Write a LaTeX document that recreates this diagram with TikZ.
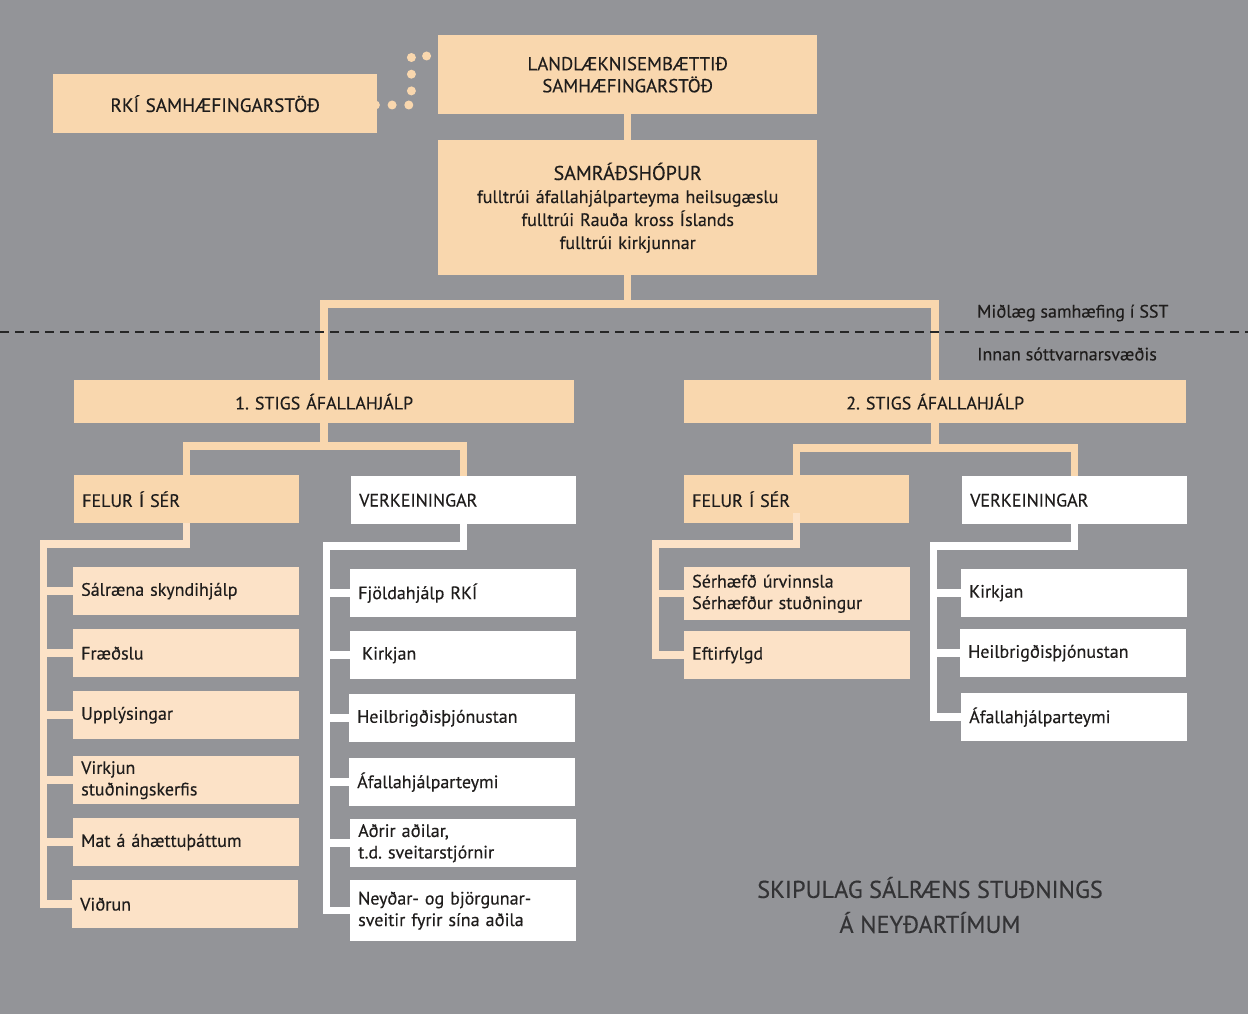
\documentclass[tikz,border=0pt]{standalone}
\usepackage{fontspec}
\setmainfont{PT Sans}[FakeBold=0.3]
\usetikzlibrary{calc}
\definecolor{bggray}{HTML}{939498}
\definecolor{peach}{HTML}{F9D7AE}
\definecolor{peachlt}{HTML}{FCE2C7}
\definecolor{txt}{HTML}{1F1D1C}
\definecolor{titlec}{HTML}{333335}
\begin{document}
\frenchspacing
\begin{tikzpicture}[x=1pt,y=-1pt,
  lbl/.style={font=\fontsize{18}{21.5}\selectfont, text=txt},
  boxbase/.style={lbl, anchor=north west, inner xsep=8pt, inner ysep=0pt, minimum height=48pt},
  hbox/.style={boxbase, fill=peach},
  hlbox/.style={boxbase, fill=peach, text width=209pt, align=left},
  wtbox/.style={boxbase, fill=white, text width=209pt, align=left},
  lbox/.style={boxbase, fill=peachlt, text width=210pt, align=left},
  wbox/.style={boxbase, fill=white, text width=210pt, align=left},
  oconn/.style={draw=peach, line width=7.5pt},
  lconn/.style={draw=peachlt, line width=7.5pt},
  wconn/.style={draw=white, line width=7.5pt},
  dotconn/.style={draw=peach, line width=9pt, line cap=round, dash pattern=on 0pt off 16.7pt},
  sidelbl/.style={lbl, anchor=west, inner sep=0pt},
]
\useasboundingbox (0,0) rectangle (1248,1014);
\fill[bggray] (0,0) rectangle (1248,1014);

% top boxes
\node[hbox, text width=308pt, align=center, minimum height=59pt, font=\fontsize{19.2}{22}\selectfont] (rki) at (53,74) {RKÍ SAMHÆFINGARSTÖÐ};
\node[hbox, text width=363pt, align=center, minimum height=79pt, font=\fontsize{18.8}{22}\selectfont] (lan) at (438,35) {LANDLÆKNISEMBÆTTIÐ\\SAMHÆFINGARSTÖÐ};
\node[hbox, text width=363pt, align=center, minimum height=135pt, font=\fontsize{18}{23}\selectfont] (sam) at (438,140) {{\fontsize{20}{23}\selectfont SAMRÁÐSHÓPUR}\\fulltrúi áfallahjálparteyma heilsugæslu\\fulltrúi Rauða kross Íslands\\fulltrúi kirkjunnar};

% level boxes
\node[hbox, text width=484pt, align=center, minimum height=43pt] (s1) at (74,380) {1. STIGS ÁFALLAHJÁLP};
\node[hbox, text width=486pt, align=center, minimum height=43pt] (s2) at (684,380) {2. STIGS ÁFALLAHJÁLP};

\node[hlbox] (fL) at (74,475) {FELUR Í SÉR};
\node[wtbox] (vL) at (351,476) {VERKEININGAR};
\node[hlbox] (fR) at (684,475) {FELUR Í SÉR};
\node[wtbox] (vR) at (962,476) {VERKEININGAR};

% left peach list
\node[lbox] (a1) at (73,567) {Sálræna skyndihjálp};
\node[lbox] (a2) at (73,629) {Fræðslu};
\node[lbox] (a3) at (73,691) {Upplýsingar};
\node[lbox] (a4) at (73,756) {Virkjun\\stuðningskerfis};
\node[lbox] (a5) at (73,818) {Mat á áhættuþáttum};
\node[lbox] (a6) at (72,880) {Viðrun};

% left white list
\node[wbox] (b1) at (350,569) {Fjöldahjálp RKÍ};
\node[wbox] (b2) at (350,631) {\hspace*{4pt}Kirkjan};
\node[wbox] (b3) at (349,694) {Heilbrigðisþjónustan};
\node[wbox] (b4) at (349,758) {Áfallahjálparteymi};
\node[wbox] (b5) at (350,819) {Aðrir aðilar,\\t.d. sveitarstjórnir};
\node[wbox, minimum height=61pt] (b6) at (350,880) {Neyðar- og björgunar-\\sveitir fyrir sína aðila};

% right peach list
\node[lbox, minimum height=53pt] (c1) at (684,567) {Sérhæfð úrvinnsla\\Sérhæfður stuðningur};
\node[lbox] (c2) at (684,631) {Eftirfylgd};

% right white list
\node[wbox] (d1) at (961,569) {Kirkjan};
\node[wbox] (d2) at (960,629) {Heilbrigðisþjónustan};
\node[wbox] (d3) at (961,693) {Áfallahjálparteymi};

% dotted link
\coordinate (dA) at ($(rki.north east)+(-2,31)$);
\coordinate (dB) at ($(lan.north west)+(5,21)$);
\draw[dotconn] (dA) -- ++(36,0) |- (dB);

% orange connectors
\coordinate (h0) at (0,304);
\coordinate (h1) at (0,446);
\coordinate (h2) at (0,448);
\draw[oconn] (lan.south) -- (sam.north);
\draw[oconn] (sam.south) -- (sam.south |- h0);
\draw[oconn] (s1.north) |- (sam.south |- h0) -| (s2.north);
\draw[oconn] (s1.south) -- (s1.south |- h1);
\draw[oconn] (fL.north) |- (s1.south |- h1) -| (vL.north);
\draw[oconn] (s2.south) -- (s2.south |- h2);
\draw[oconn] (fR.north) |- (s2.south |- h2) -| (vR.north);

% list trunks
\coordinate (tA) at (43.5,544);
\coordinate (tB) at (326.5,546);
\coordinate (tC) at (655.5,544);
\coordinate (tD) at (933.5,546);
\foreach \n in {a1,a2,a3,a4,a5,a6}{\draw[lconn] (fL.south) |- (tA) |- (\n.west);}
\foreach \n in {b1,b2,b3,b4,b5,b6}{\draw[wconn] (vL.south) |- (tB) |- (\n.west);}
\foreach \n in {c1,c2}{\draw[lconn] ($(fR.south)+(0,-10)$) |- (tC) |- (\n.west);}
\foreach \n in {d1,d2,d3}{\draw[wconn] (vR.south) |- (tD) |- (\n.west);}

% zone divider
\coordinate (zl) at (0,332);
\coordinate (zr) at (1248,332);
\draw[draw=black!85, line width=2.6pt, dash pattern=on 9pt off 6pt] (zl) -- (zr);
\node[sidelbl] (z1) at (977,313) {Miðlæg samhæfing í SST};
\node[sidelbl] (z2) at (977,354) {Innan sóttvarnarsvæðis};

% title
\node[font=\fontsize{24.3}{35}\selectfont, text=titlec, align=center, inner sep=0pt] (title) at (930,905) {SKIPULAG SÁLRÆNS STUÐNINGS\\Á NEYÐARTÍMUM};
\end{tikzpicture}
\end{document}
